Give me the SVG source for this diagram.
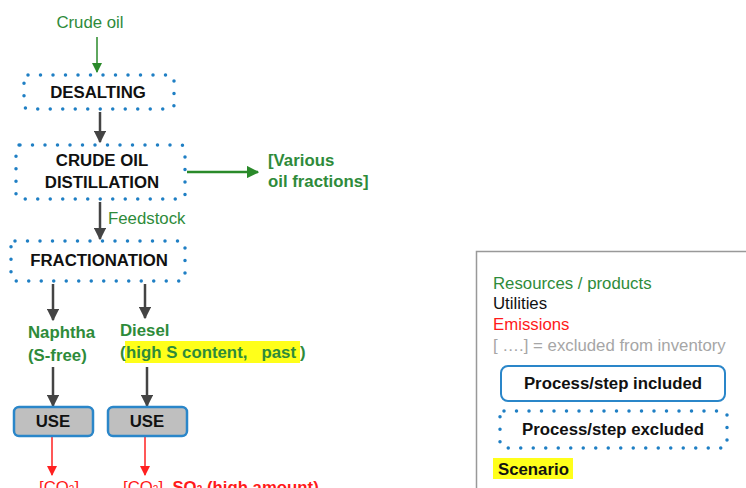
<svg xmlns="http://www.w3.org/2000/svg" width="746" height="488" viewBox="0 0 746 488">
<defs>
<style>
text{font-family:"Liberation Sans",Arial,sans-serif;font-size:16.8px}
.b{font-weight:bold}
.g{fill:#2e8b3a}
.k{fill:#111}
.r{fill:#ff1a1a}
.gr{fill:#a6a6a6}
.dot{fill:none;stroke:#1f7fc4;stroke-width:3.5;stroke-linecap:round;stroke-dasharray:0 12.5}
.use{fill:#bfbfbf;stroke:#2a86c9;stroke-width:2.5}
.ka{stroke:#444;stroke-width:2.5;fill:none}
.ga{stroke:#2a8a2a;stroke-width:1.5;fill:none}
.ga2{stroke:#2a8a2a;stroke-width:2.5;fill:none}
.ra{stroke:#ff2020;stroke-width:1.5;fill:none}
.c{text-anchor:middle}
</style>
<marker id="mk" viewBox="0 0 10 10" refX="9" refY="5" markerWidth="5" markerHeight="5" orient="auto" markerUnits="strokeWidth"><path d="M0,0 L10,5 L0,10 z" fill="#444"/></marker>
<marker id="mg" viewBox="0 0 10 10" refX="9" refY="5" markerWidth="7" markerHeight="7" orient="auto" markerUnits="strokeWidth"><path d="M0,0 L10,5 L0,10 z" fill="#2a8a2a"/></marker>
<marker id="mg2" viewBox="0 0 10 10" refX="9" refY="5" markerWidth="5" markerHeight="5" orient="auto" markerUnits="strokeWidth"><path d="M0,0 L10,5 L0,10 z" fill="#2a8a2a"/></marker>
<marker id="mr" viewBox="0 0 10 10" refX="9" refY="5" markerWidth="7" markerHeight="7" orient="auto" markerUnits="strokeWidth"><path d="M0,0 L10,5 L0,10 z" fill="#ff2020"/></marker>
</defs>
<rect width="746" height="488" fill="#fff"/>

<g id="connectors">
<line class="ga" x1="97" y1="37" x2="97" y2="72" marker-end="url(#mg)"/>
<line class="ka" x1="100" y1="112" x2="100" y2="142" marker-end="url(#mk)"/>
<line class="ga2" x1="187" y1="172" x2="258" y2="172" marker-end="url(#mg2)"/>
<line class="ka" x1="100" y1="202" x2="100" y2="239" marker-end="url(#mk)"/>
<line class="ka" x1="53" y1="284" x2="53" y2="320" marker-end="url(#mk)"/>
<line class="ka" x1="145" y1="284" x2="145" y2="318" marker-end="url(#mk)"/>
<line class="ka" x1="53" y1="367" x2="53" y2="406" marker-end="url(#mk)"/>
<line class="ka" x1="147" y1="367" x2="147" y2="406" marker-end="url(#mk)"/>
<line class="ra" x1="52" y1="437" x2="52" y2="475" marker-end="url(#mr)"/>
<line class="ra" x1="145" y1="437" x2="145" y2="475" marker-end="url(#mr)"/>
</g>

<g id="crude-oil"><text class="g c" x="90" y="28">Crude oil</text></g>

<g id="desalting">
<rect class="dot" x="24" y="75" width="150" height="34" rx="4"/>
<text class="b k c" x="98" y="98">DESALTING</text>
</g>

<g id="distillation">
<rect class="dot" x="16" y="145" width="169" height="54" rx="4"/>
<text class="b k c" x="102" y="166">CRUDE OIL</text>
<text class="b k c" x="102" y="188">DISTILLATION</text>
</g>

<g id="various">
<text class="b g" x="268" y="166">[Various</text>
<text class="b g" x="268" y="187">oil fractions]</text>
</g>

<g id="feedstock"><text class="g" x="108" y="224">Feedstock</text></g>

<g id="fractionation">
<rect class="dot" x="11" y="241" width="174" height="40" rx="4"/>
<text class="b k c" x="99" y="266">FRACTIONATION</text>
</g>

<g id="naphtha">
<text class="b g" x="28" y="338">Naphtha</text>
<text class="b g" x="28" y="361">(S-free)</text>
</g>

<g id="diesel">
<rect x="125" y="341" width="175" height="22" fill="#ffff1a"/>
<text class="b g" x="120" y="336">Diesel</text>
<text class="b g" x="120" y="358">(</text>
<text class="b g" x="126" y="358" textLength="170" lengthAdjust="spacing" xml:space="preserve">high S content,   past</text>
<text class="b g" x="300" y="358">)</text>
</g>

<g id="use1">
<rect class="use" x="14" y="407" width="79" height="29" rx="5"/>
<text class="b k c" x="53" y="427">USE</text>
</g>
<g id="use2">
<rect class="use" x="108" y="407" width="79" height="29" rx="5"/>
<text class="b k c" x="147" y="427">USE</text>
</g>

<g id="emis1"><text class="r" x="39" y="493">[CO<tspan font-size="10">2</tspan>]</text></g>
<g id="emis2"><text class="r" x="123" y="493">[CO<tspan font-size="10">2</tspan>], <tspan class="b">SO<tspan font-size="10">2</tspan> (high amount)</tspan></text></g>

<g id="legend">
<rect x="476.5" y="251.5" width="280" height="250" fill="#fff" stroke="#999" stroke-width="1.5"/>
<text class="g" x="493" y="289">Resources / products</text>
<text class="k" x="493" y="309">Utilities</text>
<text class="r" x="493" y="330">Emissions</text>
<text class="gr" x="493" y="351">[ ….] = excluded from inventory</text>
<rect x="501" y="366" width="224" height="35" rx="7" fill="#fff" stroke="#2a86c9" stroke-width="2"/>
<text class="b k c" x="613" y="389">Process/step included</text>
<rect class="dot" x="500" y="411" width="227" height="37" rx="4"/>
<text class="b k c" x="613" y="435">Process/step excluded</text>
<rect x="493" y="458" width="80" height="21" fill="#ffff1a"/>
<text class="b k" x="498" y="475">Scenario</text>
</g>
</svg>
